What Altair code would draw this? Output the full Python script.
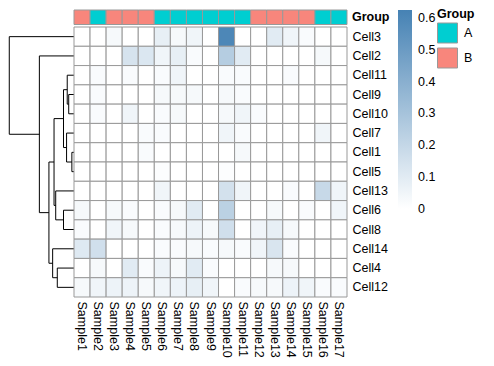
import altair as alt
import pandas as pd

# ---- data -------------------------------------------------------------
samples = ["Sample1", "Sample2", "Sample3", "Sample4", "Sample5", "Sample6",
           "Sample7", "Sample8", "Sample9", "Sample10", "Sample11", "Sample12",
           "Sample13", "Sample14", "Sample15", "Sample16", "Sample17"]
sample_group = ["B", "A", "B", "B", "B", "A", "A", "A", "A", "A", "A",
                "B", "B", "B", "B", "A", "A"]

cells = ["Cell3", "Cell2", "Cell11", "Cell9", "Cell10", "Cell7", "Cell1",
         "Cell5", "Cell13", "Cell6", "Cell8", "Cell14", "Cell4", "Cell12"]

cell3 = [0, 0, .03, 0, 0, .08, .03, .05, 0, .60, 0, 0, .10, .05, .02, 0, 0]
cell2 = [0, 0, 0, .14, .12, .05, .08, .02, 0, .25, .10, 0, 0, 0, 0, .03, 0]
cell11 = [0, .02, 0, .02, 0, .02, .05, 0, 0, .02, .02, 0, 0, .02, 0, 0, 0]
cell9 = [0, .02, 0, 0, 0, .03, .03, .03, 0, .03, .02, 0, 0, 0, 0, 0, 0]
cell10 = [0, .02, 0, .05, 0, .02, .03, 0, 0, .03, .05, .02, 0, 0, 0, 0, 0]
cell7 = [0, 0, 0, 0, .02, .02, 0, 0, 0, .05, .02, 0, 0, 0, 0, .05, 0]
cell1 = [0, 0, 0, 0, .02, 0, 0, 0, 0, 0, .03, 0, 0, 0, 0, 0, 0]
cell5 = [0, 0, 0, 0, 0, .01, 0, 0, 0, .01, 0, 0, 0, 0, 0, 0, 0]
cell13 = [0, 0, 0, 0, 0, .05, 0, 0, 0, .15, .05, 0, 0, .02, 0, .19, .05]
cell6 = [.03, 0, .03, .02, 0, .02, .03, .10, 0, .23, 0, 0, .03, 0, .02, 0, .05]
cell8 = [.02, 0, .05, .03, 0, .02, .03, .06, .03, .16, 0, .05, .08, .03, 0, 0, 0]
cell14 = [.11, .16, 0, 0, 0, .02, .02, .03, .02, .03, .02, .05, .13, .02, 0, 0, 0]
cell4 = [0, .03, 0, .10, .02, .06, .03, .10, .02, 0, 0, 0, .03, .03, 0, 0, 0]
cell12 = [.03, .05, .06, .06, .03, .05, .06, .08, .05, 0, .02, .03, .03, .06, .05, .02, .02]
row_values = [cell3, cell2, cell11, cell9, cell10, cell7, cell1, cell5,
              cell13, cell6, cell8, cell14, cell4, cell12]

# row dendrogram (hclust-like merges, node "mK" = K-th merge)
merge_left = ["Cell9", "Cell1", "Cell11", "Cell7", "m3", "Cell6", "Cell13",
              "m5", "Cell4", "Cell14", "m8", "Cell2", "Cell3"]
merge_right = ["Cell10", "Cell5", "m1", "m2", "m4", "Cell8", "m6",
               "m7", "Cell12", "m9", "m10", "m11", "m12"]
merge_height = [5.7, 2.3, 7.3, 8.0, 11.3, 11.3, 19.7, 21.5, 18.0, 23.0,
                27.0, 37.3, 69.7]

group_levels = ["A", "B"]
group_colors = ["#00CED1", "#F8867C"]
legend_values = [0, 0.1, 0.2, 0.3, 0.4, 0.5, 0.6]

# ---- tables ------------------------------------------------------------
heat_df = pd.DataFrame([
    {"cell": c, "sample": s, "value": v}
    for c, vals in zip(cells, row_values)
    for s, v in zip(samples, vals)
])
annot_df = pd.DataFrame({"sample": samples, "group": sample_group,
                         "track": ["Group"] * len(samples)})
track_df = pd.DataFrame({"track": ["Group"]})

pos = {c: i for i, c in enumerate(cells)}
hgt = {c: 0.0 for c in cells}
segs = []
for k, (l, r, h) in enumerate(zip(merge_left, merge_right, merge_height)):
    name = f"m{k + 1}"
    segs.append({"x": h, "x2": h, "y": pos[l], "y2": pos[r]})
    segs.append({"x": hgt[l], "x2": h, "y": pos[l], "y2": pos[l]})
    segs.append({"x": hgt[r], "x2": h, "y": pos[r], "y2": pos[r]})
    pos[name] = (pos[l] + pos[r]) / 2
    hgt[name] = h
seg_df = pd.DataFrame(segs)

# ---- layout (pixels in plot area) -------------------------------------
W, H = 338, 287
HM_X = [65, 338]
HM_Y = [17, 287]
AN_Y = [0, 14.5]
FONT = "Liberation Sans"
FS = 12.5
GRID = "#999999"

dendro = alt.Chart(seg_df).mark_rule(color="black", strokeWidth=1).encode(
    x=alt.X("x:Q", scale=alt.Scale(domain=[0, 70], range=[HM_X[0], 0], nice=False, zero=False), axis=None),
    x2="x2:Q",
    y=alt.Y("y:Q", scale=alt.Scale(domain=[-0.5, len(cells) - 0.5], range=HM_Y, nice=False, zero=False), axis=None),
    y2="y2:Q",
)

annot = alt.Chart(annot_df).mark_rect(stroke=GRID, strokeWidth=1).encode(
    x=alt.X("sample:N", sort=samples,
            scale=alt.Scale(range=HM_X, paddingInner=0, paddingOuter=0), axis=None),
    y=alt.Y("track:N", scale=alt.Scale(range=AN_Y, paddingInner=0, paddingOuter=0), axis=None),
    color=alt.Color("group:N",
                    scale=alt.Scale(domain=group_levels, range=group_colors),
                    legend=alt.Legend(title="Group", orient="none", legendX=428, legendY=-2,
                                      symbolType="square", symbolSize=400,
                                      symbolStrokeColor=GRID, symbolStrokeWidth=1,
                                      symbolOpacity=1,
                                      rowPadding=0, titlePadding=2, labelOffset=6,
                                      padding=0, titleFontWeight="bold",
                                      titleFontSize=FS, labelFontSize=FS,
                                      titleFont=FONT, labelFont=FONT,
                                      titleColor="black", labelColor="black")),
)

group_label = alt.Chart(track_df).mark_text(
    align="left", baseline="middle", fontWeight="bold", fontSize=FS, font=FONT, color="black"
).encode(
    x=alt.value(W + 5),
    y=alt.Y("track:N", scale=alt.Scale(range=AN_Y), axis=None),
    text="track:N",
)

heat = alt.Chart(heat_df).mark_rect(stroke=GRID, strokeWidth=1).encode(
    x=alt.X("sample:N", sort=samples,
            scale=alt.Scale(range=HM_X, paddingInner=0, paddingOuter=0),
            axis=alt.Axis(orient="bottom", title=None, labelAngle=90, ticks=False,
                          domain=False, labelPadding=4, labelFontSize=FS,
                          labelFont=FONT, labelColor="black")),
    y=alt.Y("cell:N", sort=cells,
            scale=alt.Scale(range=HM_Y, paddingInner=0, paddingOuter=0),
            axis=alt.Axis(orient="right", title=None, ticks=False, domain=False,
                          labelPadding=5, labelFontSize=FS, labelFont=FONT,
                          labelColor="black")),
    color=alt.Color("value:Q",
                    scale=alt.Scale(domain=[-0.02, 0, 0.625],
                                    range=["#ffffff", "#ffffff", "#4682b4"],
                                    interpolate="rgb"),
                    legend=alt.Legend(title=None, orient="none", legendX=389, legendY=0,
                                      direction="vertical", gradientLength=205,
                                      gradientThickness=14, gradientStrokeWidth=0,
                                      values=legend_values, format="~g",
                                      labelOffset=6, padding=0, labelFontSize=FS,
                                      labelFont=FONT, labelColor="black")),
)

chart = alt.layer(dendro, annot, group_label, heat).resolve_scale(
    x="independent", y="independent", color="independent"
).properties(
    width=W, height=H, padding=0
).configure_view(stroke=None)

chart.save("out.html", embed_options={"renderer": "svg", "actions": False})
